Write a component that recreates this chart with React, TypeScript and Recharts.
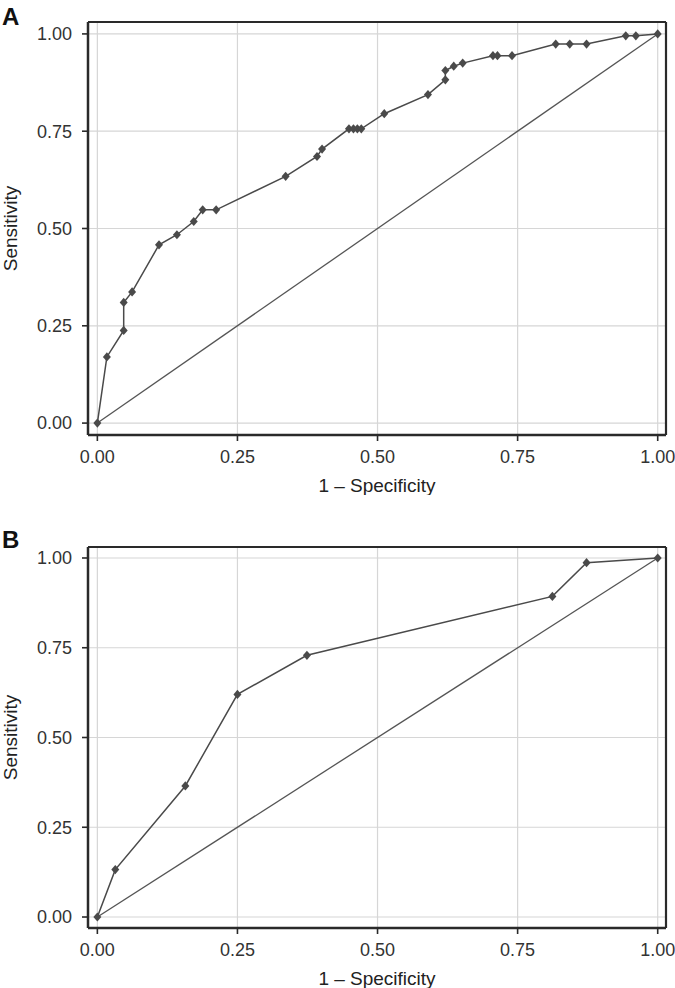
import {
  ComposedChart,
  Line,
  XAxis,
  YAxis,
  CartesianGrid,
  ReferenceLine,
} from "recharts";

// panel A: ROC points (1 - specificity, sensitivity)
const fprA = [
  0, 0.017, 0.047, 0.047, 0.062, 0.11, 0.142, 0.172, 0.188, 0.212, 0.336, 0.392,
  0.401, 0.449, 0.457, 0.464, 0.471, 0.512, 0.59, 0.621, 0.621, 0.636, 0.652,
  0.706, 0.714, 0.74, 0.818, 0.843, 0.873, 0.943, 0.961, 1,
];
const tprA = [
  0, 0.17, 0.238, 0.31, 0.337, 0.458, 0.484, 0.518, 0.548, 0.548, 0.634, 0.685,
  0.704, 0.756, 0.756, 0.756, 0.756, 0.795, 0.844, 0.882, 0.906, 0.917, 0.925,
  0.944, 0.944, 0.944, 0.974, 0.974, 0.974, 0.995, 0.995, 1,
];

// panel B
const fprB = [0, 0.032, 0.157, 0.25, 0.374, 0.812, 0.873, 1];
const tprB = [0, 0.132, 0.365, 0.62, 0.729, 0.893, 0.987, 1];

// chance line
const diagFpr = [0, 1];
const diagTpr = [0, 1];

const ticks = [0, 0.25, 0.5, 0.75, 1];

const FONT = "'Liberation Sans', Arial, sans-serif";
const X_DOMAIN: [number, number] = [-0.0167, 1.0148];
const Y_DOMAIN: [number, number] = [-0.0306, 1.0306];

const toRows = (xs: number[], ys: number[]) =>
  xs.map((x, i) => ({ fpr: x, tpr: ys[i] }));

const Diamond = (props: any) => {
  const { cx, cy, index } = props;
  if (cx == null || cy == null) return null;
  return (
    <path
      key={`d-${index}`}
      d={`M${cx},${cy - 4.6}L${cx + 4},${cy}L${cx},${cy + 4.6}L${cx - 4},${cy}Z`}
      fill="#4a4a4a"
    />
  );
};

const yTitle = (props: any) => {
  const { viewBox } = props;
  const x = 10;
  const y = viewBox.y + viewBox.height / 2;
  return (
    <text
      x={x}
      y={y}
      transform={`rotate(-90 ${x} ${y})`}
      textAnchor="middle"
      dominantBaseline="central"
      fontSize={19}
      fill="#222"
      fontFamily={FONT}
    >
      Sensitivity
    </text>
  );
};

const tickStyle = { fontSize: 18, fill: "#333", fontFamily: FONT };
const frame = { stroke: "#2a2a2a", strokeWidth: 2.5 };

const RocPanel = ({
  fpr,
  tpr,
  height,
  top,
}: {
  fpr: number[];
  tpr: number[];
  height: number;
  top: number;
}) => (
  <ComposedChart
    width={675}
    height={height}
    margin={{ top, right: 9, left: 0, bottom: 0 }}
  >
    <CartesianGrid stroke="#d6d6d6" strokeWidth={1.2} />
    <XAxis
      type="number"
      dataKey="fpr"
      domain={X_DOMAIN}
      ticks={ticks}
      allowDataOverflow
      tickFormatter={(v: number) => v.toFixed(2)}
      tick={tickStyle}
      tickSize={6}
      tickMargin={9}
      height={60}
      axisLine={frame}
      tickLine={{ stroke: "#2a2a2a", strokeWidth: 1.6 }}
      label={{
        value: "1 \u2013 Specificity",
        position: "insideBottom",
        offset: 3,
        fontSize: 19,
        fill: "#222",
        fontFamily: FONT,
      }}
    />
    <YAxis
      type="number"
      dataKey="tpr"
      domain={Y_DOMAIN}
      ticks={ticks}
      allowDataOverflow
      tickFormatter={(v: number) => v.toFixed(2)}
      tick={tickStyle}
      tickSize={6}
      tickMargin={10}
      width={88}
      axisLine={frame}
      tickLine={{ stroke: "#2a2a2a", strokeWidth: 1.6 }}
      label={yTitle}
    />
    {/* panel border, top and right edges */}
    <ReferenceLine y={Y_DOMAIN[1]} stroke="#2a2a2a" strokeWidth={2.2} />
    <ReferenceLine x={X_DOMAIN[1]} stroke="#2a2a2a" strokeWidth={2.2} />
    <Line
      data={toRows(diagFpr, diagTpr)}
      dataKey="tpr"
      type="linear"
      stroke="#555"
      strokeWidth={1.3}
      dot={false}
      activeDot={false}
      isAnimationActive={false}
    />
    <Line
      data={toRows(fpr, tpr)}
      dataKey="tpr"
      type="linear"
      stroke="#4a4a4a"
      strokeWidth={1.5}
      dot={Diamond}
      activeDot={false}
      isAnimationActive={false}
    />
  </ComposedChart>
);

const letterStyle = {
  position: "absolute" as const,
  left: 2,
  fontSize: 24,
  lineHeight: "24px",
  fontWeight: 700,
  fontFamily: FONT,
  color: "#111",
};

export default function App() {
  return (
    <div
      style={{
        position: "absolute",
        left: 0,
        top: 0,
        width: 675,
        height: 988,
        background: "#fff",
        fontFamily: FONT,
      }}
    >
      <div style={{ position: "absolute", left: 0, top: 0 }}>
        <RocPanel fpr={fprA} tpr={tprA} height={495} top={22} />
      </div>
      <div style={{ position: "absolute", left: 0, top: 495 }}>
        <RocPanel fpr={fprB} tpr={tprB} height={493} top={52} />
      </div>
      <div style={{ ...letterStyle, top: 5 }}>A</div>
      <div style={{ ...letterStyle, top: 528 }}>B</div>
    </div>
  );
}
